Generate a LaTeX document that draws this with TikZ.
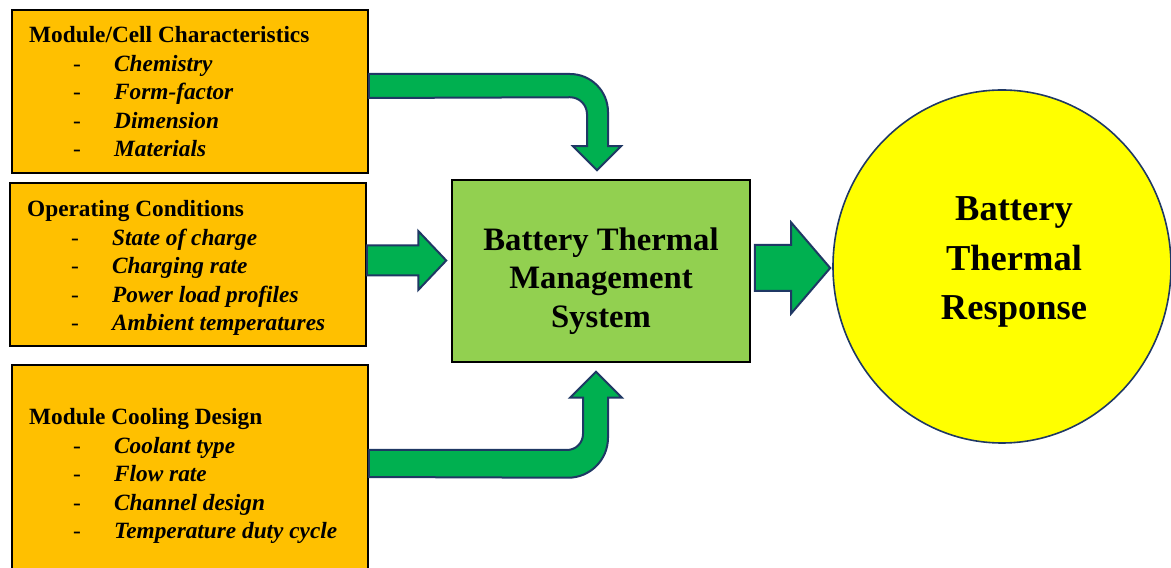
\documentclass[tikz,border=0pt]{standalone}
\usepackage{fontspec}
\setmainfont{Liberation Serif}
\usetikzlibrary{shapes.geometric, calc}

\definecolor{factorfill}{HTML}{FFC000}
\definecolor{btmsfill}{HTML}{92D050}
\definecolor{arrowfill}{HTML}{00B050}
\definecolor{arrowline}{HTML}{1F3864}
\definecolor{respfill}{HTML}{FFFF00}

% one indented entry of a factor list
\newcommand{\itm}[1]{\hspace*{44pt}\makebox[41pt][l]{\mdseries -}\textit{#1}}

\begin{document}
\begin{tikzpicture}[x=1pt, y=1pt,
        factor/.style={rectangle, draw=black, line width=1.5pt, fill=factorfill, minimum width=356, inner sep=0},
        listtext/.style={anchor=base west, inner sep=0, font=\fontsize{23.3}{28.5}\selectfont\bfseries},
        blockarrow/.style={draw=arrowline, line width=2pt, fill=arrowfill, line join=miter}
    ]
        \clip (0,0) rectangle (1171,568);

        % input factors
        \node[factor, minimum height=163] (cell) at (190,476.5) {};
        \node[factor, minimum height=163] (ops) at (188,303.5) {};
        \node[factor, minimum height=220] (cool) at (190,93) {};

        \node[listtext] (celltxt) at (29,525) {\begin{tabular}[t]{@{}l@{}}
            Module/Cell Characteristics\\ \itm{Chemistry}\\ \itm{Form-factor}\\ \itm{Dimension}\\ \itm{Materials}
        \end{tabular}};
        \node[listtext] (opstxt) at (27,351) {\begin{tabular}[t]{@{}l@{}}
            Operating Conditions\\ \itm{State of charge}\\ \itm{Charging rate}\\ \itm{Power load profiles}\\ \itm{Ambient temperatures}
        \end{tabular}};
        \node[listtext] (cooltxt) at (29,143) {\begin{tabular}[t]{@{}l@{}}
            Module Cooling Design\\ \itm{Coolant type}\\ \itm{Flow rate}\\ \itm{Channel design}\\ \itm{Temperature duty cycle}
        \end{tabular}};

        % system and response
        \node[rectangle, draw=black, line width=1.5pt, fill=btmsfill, minimum width=298, minimum height=182] (btms) at (601,297) {};
        \node[align=center, inner sep=0, font=\fontsize{32.7}{38.5}\selectfont\bfseries] (btmstxt) at (601,287) {Battery Thermal\\Management\\System};
        \node[ellipse, draw=arrowline, line width=1.6pt, fill=respfill, minimum width=338, minimum height=353, inner sep=0] (resp) at (1002,301.5) {};
        \node[align=center, inner sep=0, font=\fontsize{36.5}{49.5}\selectfont\bfseries] (resptxt) at (1014,306) {Battery\\Thermal\\Response};

        % block arrows
        \draw[blockarrow] let \p1 = (cell.east), \p2 = ([xshift=-4,yshift=9]btms.north) in
            (\x1,\y1+17.5) -- (\x2-27,\y1+17.5) arc[start angle=90, end angle=0, radius=38]
            -- (\x2+11,\y2+24) -- (\x2+24,\y2+24) -- (\x2,\y2) -- (\x2-24,\y2+24) -- (\x2-10,\y2+24)
            -- (\x2-10,\y2+56) arc[start angle=0, end angle=90, radius=17] -- (\x1,\y1-6.5) -- cycle;
        \draw[blockarrow] let \p1 = ([yshift=4]ops.east), \p2 = ([xshift=-5]btms.west) in
            (\x1,\y1+15) -- (\x2-28,\y1+15) -- (\x2-28,\y1+29.5) -- (\x2,\y1)
            -- (\x2-28,\y1-29.5) -- (\x2-28,\y1-15) -- (\x1,\y1-15) -- cycle;
        \draw[blockarrow] let \p1 = (cool.east), \p2 = ([xshift=-5,yshift=-9]btms.south) in
            (\x1,\y1+25) -- (\x2-29,\y1+25) arc[start angle=270, end angle=360, radius=16]
            -- (\x2-13,\y2-26) -- (\x2-26,\y2-26) -- (\x2,\y2) -- (\x2+26,\y2-26) -- (\x2+12,\y2-26)
            -- (\x2+12,\y2-66) arc[start angle=0, end angle=-90, radius=40] -- (\x1,\y1-2) -- cycle;
        \draw[blockarrow] let \p1 = ([xshift=4,yshift=3]btms.east), \p2 = ([xshift=-2]resp.west) in
            (\x1,\y1+23) -- (\x2-39,\y1+23) -- (\x2-39,\y1+45.5) -- (\x2,\y1)
            -- (\x2-39,\y1-45.5) -- (\x2-39,\y1-23) -- (\x1,\y1-23) -- cycle;
    \end{tikzpicture}
\end{document}
